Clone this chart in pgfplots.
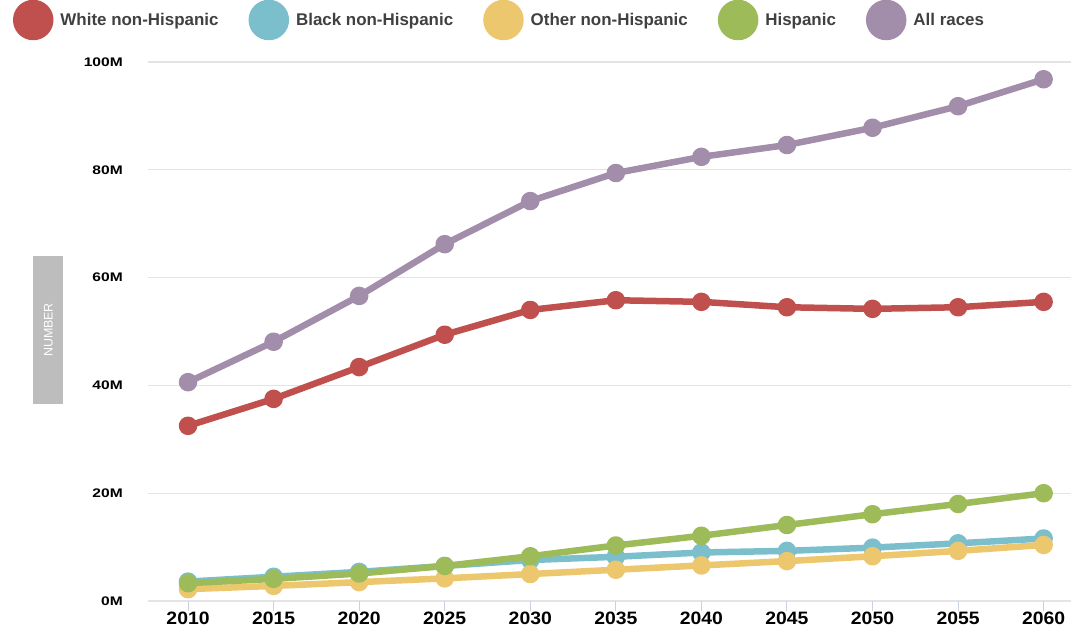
\documentclass[border=0pt]{standalone}
\usepackage{pgfplots}
\pgfplotsset{compat=1.18}
\usepackage{fontspec}
\setmainfont{Liberation Sans}
\definecolor{cw}{HTML}{C0504D}
\definecolor{cb}{HTML}{7BBFCC}
\definecolor{co}{HTML}{ECC76D}
\definecolor{ch}{HTML}{9DBB59}
\definecolor{ca}{HTML}{A28DAA}
\definecolor{gridc}{HTML}{E4E4E4}
\definecolor{tickc}{HTML}{C8D4E4}
\definecolor{labgray}{HTML}{BDBDBD}
\definecolor{legtext}{HTML}{404040}
\begin{document}
\begin{tikzpicture}
\begin{axis}[
  scale only axis, width=923bp, height=539bp,
  xmin=2007.66, xmax=2061.6, ymin=0, ymax=100,
  axis line style={draw=none},
  ymajorgrids, grid style={color=gridc, line width=1.3bp},
  xtick={2010,2015,2020,2025,2030,2035,2040,2045,2050,2055,2060},
  xticklabels={2010,2015,2020,2025,2030,2035,2040,2045,2050,2055,2060},
  ytick={0,20,40,60,80,100},
  yticklabels={0M,20M,40M,60M,80M,100M},
  xtick pos=bottom, ytick pos=left,
  tick align=outside, major tick length=10bp,
  xtick style={draw=tickc, line width=1bp},
  ytick style={draw=none},
  xticklabel style={font=\bfseries\fontsize{18}{18}\selectfont, inner sep=1bp, text=black, xscale=1.08},
  yticklabel style={font=\bfseries\fontsize{12.5}{12.5}\selectfont, inner sep=0pt, xshift=-15bp, text=black, xscale=1.25},
  clip=false,
  legend columns=5,
  legend style={draw=none, fill=none, inner sep=0pt, outer sep=0pt,
    at={(rel axis cs:0,1)}, anchor=west, xshift=-135bp, yshift=42bp,
    font=\bfseries\fontsize{17}{17}\selectfont, text=legtext,
    nodes={inner sep=0pt},
    /tikz/every odd column/.style={column sep=7bp},
    /tikz/every even column/.style={column sep=30bp}},
  legend image code/.code={\fill (0,0) circle (17bp);},
  every axis plot/.append style={line width=6.5bp, mark=*, mark size=6bp, line join=round,
    mark options={draw=none}},
]
\addplot[color=cw] coordinates {(2010,32.5)(2015,37.5)(2020,43.4)(2025,49.4)(2030,54.0)(2035,55.8)(2040,55.5)(2045,54.5)(2050,54.2)(2055,54.5)(2060,55.5)};
\addlegendentry{White non-Hispanic}
\addplot[color=cb] coordinates {(2010,3.6)(2015,4.5)(2020,5.4)(2025,6.5)(2030,7.6)(2035,8.2)(2040,9.0)(2045,9.3)(2050,9.9)(2055,10.7)(2060,11.6)};
\addlegendentry{Black non-Hispanic}
\addplot[color=co] coordinates {(2010,2.2)(2015,2.8)(2020,3.5)(2025,4.2)(2030,5.0)(2035,5.8)(2040,6.6)(2045,7.4)(2050,8.3)(2055,9.3)(2060,10.4)};
\addlegendentry{Other non-Hispanic}
\addplot[color=ch] coordinates {(2010,3.3)(2015,4.1)(2020,5.1)(2025,6.5)(2030,8.3)(2035,10.3)(2040,12.1)(2045,14.1)(2050,16.1)(2055,18.0)(2060,20.0)};
\addlegendentry{Hispanic}
\addplot[color=ca] coordinates {(2010,40.6)(2015,48.1)(2020,56.6)(2025,66.2)(2030,74.2)(2035,79.4)(2040,82.4)(2045,84.6)(2050,87.8)(2055,91.8)(2060,96.8)};
\addlegendentry{All races}
\node[fill=labgray, text=white, minimum width=148bp, minimum height=30bp, inner sep=0pt, rotate=90,
  font=\fontsize{12.5}{12.5}\selectfont] at ([xshift=-99.5bp,yshift=1.5bp]rel axis cs:0,0.5) {NUMBER};
\end{axis}
\pgfresetboundingbox
\path[use as bounding box] (-148bp,-32bp) rectangle (923bp,601bp);
\end{tikzpicture}
\end{document}
